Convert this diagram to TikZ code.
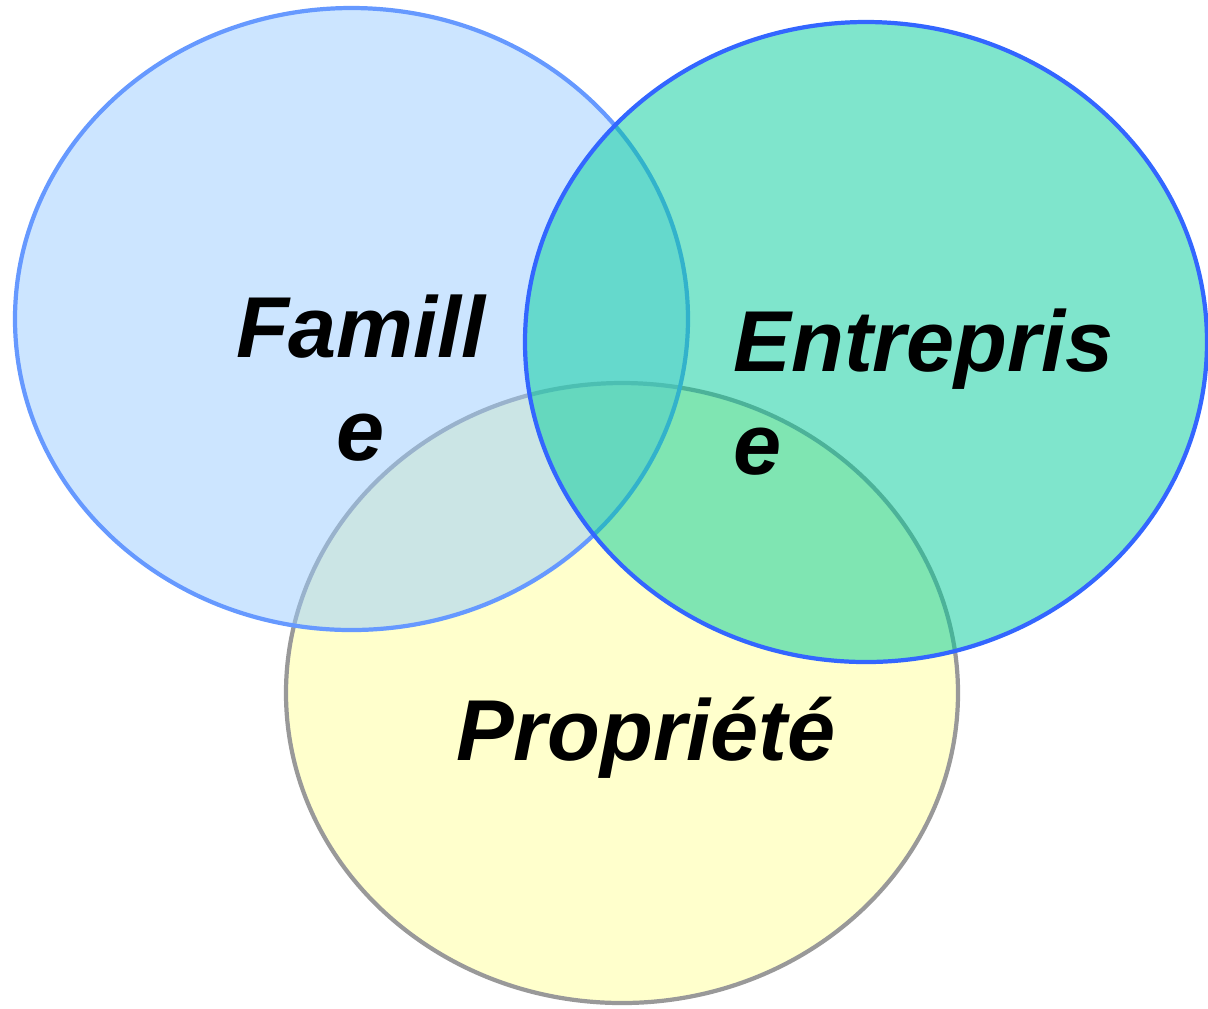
\documentclass[tikz,border=0pt]{standalone}
\usepackage{fontspec}
\setmainfont{Liberation Sans}
\usepackage{xcolor}
\usepackage{tikz}
\usetikzlibrary{positioning}
\definecolor{familleblue}{HTML}{99CCFF}
\definecolor{familleline}{HTML}{6699FF}
\definecolor{entrepriseteal}{HTML}{00CC99}
\definecolor{entrepriseline}{HTML}{3366FF}
\definecolor{proprieteyellow}{HTML}{FFFFCC}
\definecolor{proprieteline}{HTML}{999999}
\tikzset{
set famille/.style = { draw = familleline, fill = familleblue, fill opacity = 0.5, line width = 1.2pt },
set entreprise/.style = { draw = entrepriseline, fill = entrepriseteal, fill opacity = 0.5, line width = 1.2pt },
set propriete/.style = { draw = proprieteline, fill = proprieteyellow, line width = 1.2pt },
set label/.style = { black, inner sep = 0pt, font = \fontsize{24.6}{29.3}\selectfont\bfseries\itshape },
}

\begin{document}
\begin{tikzpicture}[x=0.1mm, y=-0.1mm]
      \useasboundingbox (0,0) rectangle (1208,1008);
      % the three sets, bottom one first
      \path[set propriete] (622,693) ellipse [x radius=336, y radius=310];
      \path[set famille] (351.5,319) ellipse [x radius=336.5, y radius=311];
      \path[set entreprise] (866,342) ellipse [x radius=341, y radius=320];
      \begin{scope}[every node/.style={set label}]
        \node[align=center] (famille) at (361,378) {Famill\\e};
        \node[align=left, anchor=west] (entreprise) at (733,392) {Entrepris\\e};
        \node[anchor=base] (propriete) at (646,760) {Propriété};
      \end{scope}
    \end{tikzpicture}
\end{document}
